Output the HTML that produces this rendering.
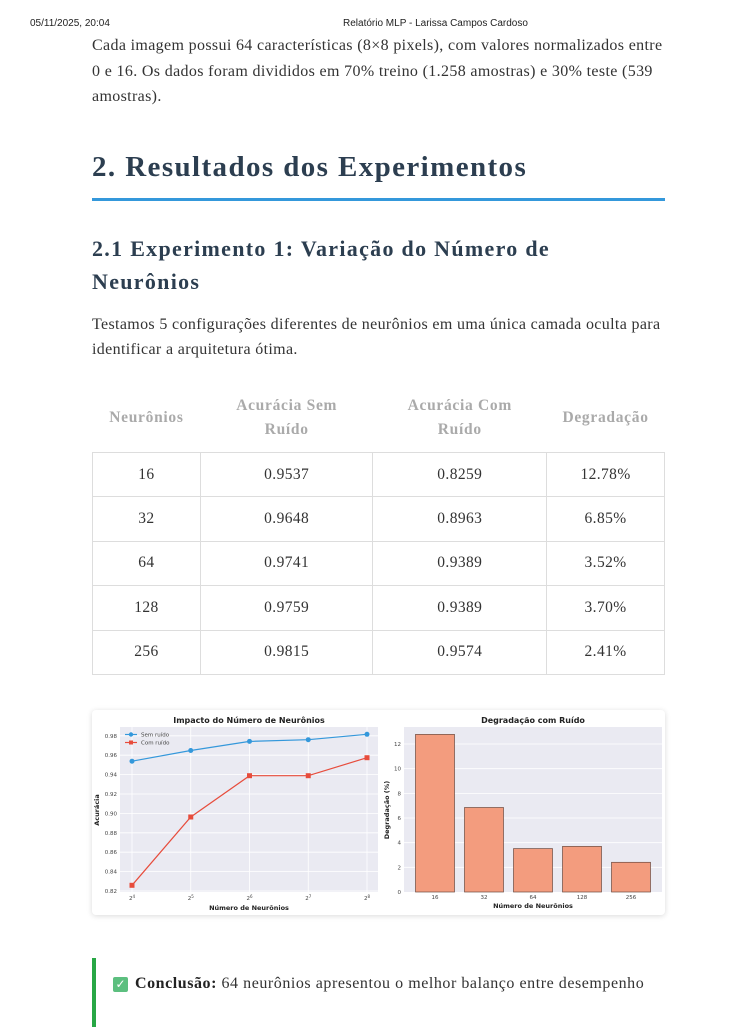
<!DOCTYPE html>
<html><head><meta charset="utf-8"><style>
body{margin:0;width:755px;height:1027px;background:#fff;position:relative;overflow:hidden;font-family:"Liberation Serif",serif;color:#333}
.a{position:absolute;white-space:nowrap}
.hdr{font-family:"Liberation Sans",sans-serif;font-size:10px;color:#222}
.p{font-size:16px;left:92px;letter-spacing:0.35px}
h1,h2{margin:0;font-family:"Liberation Serif",serif;color:#2c3e50;font-weight:bold;position:absolute;left:92px}
table{position:absolute;left:92px;top:383px;width:573px;border-collapse:collapse;font-size:15.5px;text-align:center;letter-spacing:0.4px}
th{color:#aaa;font-weight:bold;height:69px;line-height:24px;padding:0;letter-spacing:0.7px}
td{border:1px solid #ddd;height:43.4px;padding:0;color:#333}
</style></head><body>
<div class="a hdr" style="left:30px;top:18px">05/11/2025, 20:04</div>
<div class="a hdr" style="left:343px;top:18px">Relatório MLP - Larissa Campos Cardoso</div>
<div class="a p" style="top:37px">Cada imagem possui 64 características (8×8 pixels), com valores normalizados entre</div>
<div class="a p" style="top:63px">0 e 16. Os dados foram divididos em 70% treino (1.258 amostras) e 30% teste (539</div>
<div class="a p" style="top:88px">amostras).</div>
<h1 style="top:151px;font-size:29px;letter-spacing:1.4px">2. Resultados dos Experimentos</h1>
<div class="a" style="left:92px;top:198px;width:573px;height:3px;background:#3498db"></div>
<h2 style="top:232px;font-size:22px;line-height:33px;letter-spacing:1.3px">2.1 Experimento 1: Variação do Número de<br>Neurônios</h2>
<div class="a p" style="top:316px">Testamos 5 configurações diferentes de neurônios em uma única camada oculta para</div>
<div class="a p" style="top:341px">identificar a arquitetura ótima.</div>
<table>
<colgroup><col style="width:108px"><col style="width:173px"><col style="width:174px"><col style="width:118px"></colgroup>
<tr><th>Neurônios</th><th>Acurácia Sem<br>Ruído</th><th>Acurácia Com<br>Ruído</th><th>Degradação</th></tr>
<tr><td>16</td><td>0.9537</td><td>0.8259</td><td>12.78%</td></tr>
<tr><td>32</td><td>0.9648</td><td>0.8963</td><td>6.85%</td></tr>
<tr><td>64</td><td>0.9741</td><td>0.9389</td><td>3.52%</td></tr>
<tr><td>128</td><td>0.9759</td><td>0.9389</td><td>3.70%</td></tr>
<tr><td>256</td><td>0.9815</td><td>0.9574</td><td>2.41%</td></tr>
</table>
<div class="a" style="left:92px;top:710px;width:573px;height:205px;background:#fff;box-shadow:0 1px 6px rgba(0,0,0,0.15);border-radius:4px"></div>
<svg class="a" style="left:0;top:0" width="755" height="1027" font-family="DejaVu Sans, sans-serif">
<text x="249" y="723" font-size="8" font-weight="bold" text-anchor="middle" fill="#222">Impacto do Número de Neurônios</text>
<rect x="120" y="727" width="258" height="165" fill="#eaeaf2"/>
<g stroke="#fff" stroke-width="0.8">
<line x1="120" x2="378" y1="891" y2="891"/><line x1="120" x2="378" y1="871.6" y2="871.6"/><line x1="120" x2="378" y1="852.2" y2="852.2"/><line x1="120" x2="378" y1="832.8" y2="832.8"/><line x1="120" x2="378" y1="813.4" y2="813.4"/><line x1="120" x2="378" y1="794" y2="794"/><line x1="120" x2="378" y1="774.6" y2="774.6"/><line x1="120" x2="378" y1="755.2" y2="755.2"/><line x1="120" x2="378" y1="735.8" y2="735.8"/>
<line y1="727" y2="892" x1="132" x2="132"/><line y1="727" y2="892" x1="190.75" x2="190.75"/><line y1="727" y2="892" x1="249.5" x2="249.5"/><line y1="727" y2="892" x1="308.25" x2="308.25"/><line y1="727" y2="892" x1="367" x2="367"/>
</g>
<g font-size="5.5" fill="#444" text-anchor="end">
<text x="117" y="893">0.82</text><text x="117" y="873.6">0.84</text><text x="117" y="854.2">0.86</text><text x="117" y="834.8">0.88</text><text x="117" y="815.4">0.90</text><text x="117" y="796">0.92</text><text x="117" y="776.6">0.94</text><text x="117" y="757.2">0.96</text><text x="117" y="737.8">0.98</text>
</g>
<g font-size="5.5" fill="#444" text-anchor="middle">
<text x="132" y="900">2<tspan font-size="4" dy="-2">4</tspan></text><text x="190.75" y="900">2<tspan font-size="4" dy="-2">5</tspan></text><text x="249.5" y="900">2<tspan font-size="4" dy="-2">6</tspan></text><text x="308.25" y="900">2<tspan font-size="4" dy="-2">7</tspan></text><text x="367" y="900">2<tspan font-size="4" dy="-2">8</tspan></text>
</g>
<text x="249" y="910" font-size="6.5" font-weight="bold" text-anchor="middle" fill="#222">Número de Neurônios</text>
<text transform="translate(99,810) rotate(-90)" font-size="6.5" font-weight="bold" text-anchor="middle" fill="#222">Acurácia</text>
<polyline points="132,761.2 190.75,750.5 249.5,741.4 308.25,739.7 367,734.3" fill="none" stroke="#3498db" stroke-width="1.2"/>
<g fill="#3498db"><circle cx="132" cy="761.2" r="2.5"/><circle cx="190.75" cy="750.5" r="2.5"/><circle cx="249.5" cy="741.4" r="2.5"/><circle cx="308.25" cy="739.7" r="2.5"/><circle cx="367" cy="734.3" r="2.5"/></g>
<polyline points="132,885.3 190.75,817 249.5,775.7 308.25,775.7 367,757.7" fill="none" stroke="#e74c3c" stroke-width="1.2"/>
<g fill="#e74c3c"><rect x="129.5" y="882.8" width="5" height="5"/><rect x="188.25" y="814.5" width="5" height="5"/><rect x="247" y="773.2" width="5" height="5"/><rect x="305.75" y="773.2" width="5" height="5"/><rect x="364.5" y="755.2" width="5" height="5"/></g>
<line x1="125" x2="137" y1="734.5" y2="734.5" stroke="#3498db" stroke-width="1.2"/><circle cx="131" cy="734.5" r="2.2" fill="#3498db"/>
<line x1="125" x2="137" y1="742.5" y2="742.5" stroke="#e74c3c" stroke-width="1.2"/><rect x="129" y="740.5" width="4" height="4" fill="#e74c3c"/>
<text x="141" y="736.5" font-size="5.5" fill="#444">Sem ruído</text><text x="141" y="744.5" font-size="5.5" fill="#444">Com ruído</text>

<text x="533" y="723" font-size="8" font-weight="bold" text-anchor="middle" fill="#222">Degradação com Ruído</text>
<rect x="404" y="727" width="258" height="165" fill="#eaeaf2"/>
<g stroke="#fff" stroke-width="0.8">
<line x1="404" x2="662" y1="867.3" y2="867.3"/><line x1="404" x2="662" y1="842.7" y2="842.7"/><line x1="404" x2="662" y1="818" y2="818"/><line x1="404" x2="662" y1="793.4" y2="793.4"/><line x1="404" x2="662" y1="768.7" y2="768.7"/><line x1="404" x2="662" y1="744" y2="744"/>
</g>
<g font-size="5.5" fill="#444" text-anchor="end">
<text x="401" y="894">0</text><text x="401" y="869.3">2</text><text x="401" y="844.7">4</text><text x="401" y="820">6</text><text x="401" y="795.4">8</text><text x="401" y="770.7">10</text><text x="401" y="746">12</text>
</g>
<g fill="#f39c7e" stroke="#6b4a40" stroke-width="0.7">
<rect x="415.5" y="734.4" width="39" height="157.6"/><rect x="464.5" y="807.5" width="39" height="84.5"/><rect x="513.5" y="848.6" width="39" height="43.4"/><rect x="562.5" y="846.4" width="39" height="45.6"/><rect x="611.5" y="862.3" width="39" height="29.7"/>
</g>
<g font-size="5.5" fill="#444" text-anchor="middle">
<text x="435" y="899">16</text><text x="484" y="899">32</text><text x="533" y="899">64</text><text x="582" y="899">128</text><text x="631" y="899">256</text>
</g>
<text x="533" y="908" font-size="6.5" font-weight="bold" text-anchor="middle" fill="#222">Número de Neurônios</text>
<text transform="translate(389,810) rotate(-90)" font-size="6.5" font-weight="bold" text-anchor="middle" fill="#222">Degradação (%)</text>
</svg>
<div class="a" style="left:92px;top:958px;width:4px;height:69px;background:#28a745"></div>
<div class="a" style="left:113px;top:977px;width:15px;height:15px;background:#5cbf7f;border-radius:2px;color:#fff;font-size:12px;line-height:15px;text-align:center;font-family:'DejaVu Sans',sans-serif">✓</div>
<div class="a" style="left:135px;top:975px;font-size:16px;color:#333;letter-spacing:0.55px"><b style="color:#222">Conclusão:</b> 64 neurônios apresentou o melhor balanço entre desempenho</div>
</body></html>
